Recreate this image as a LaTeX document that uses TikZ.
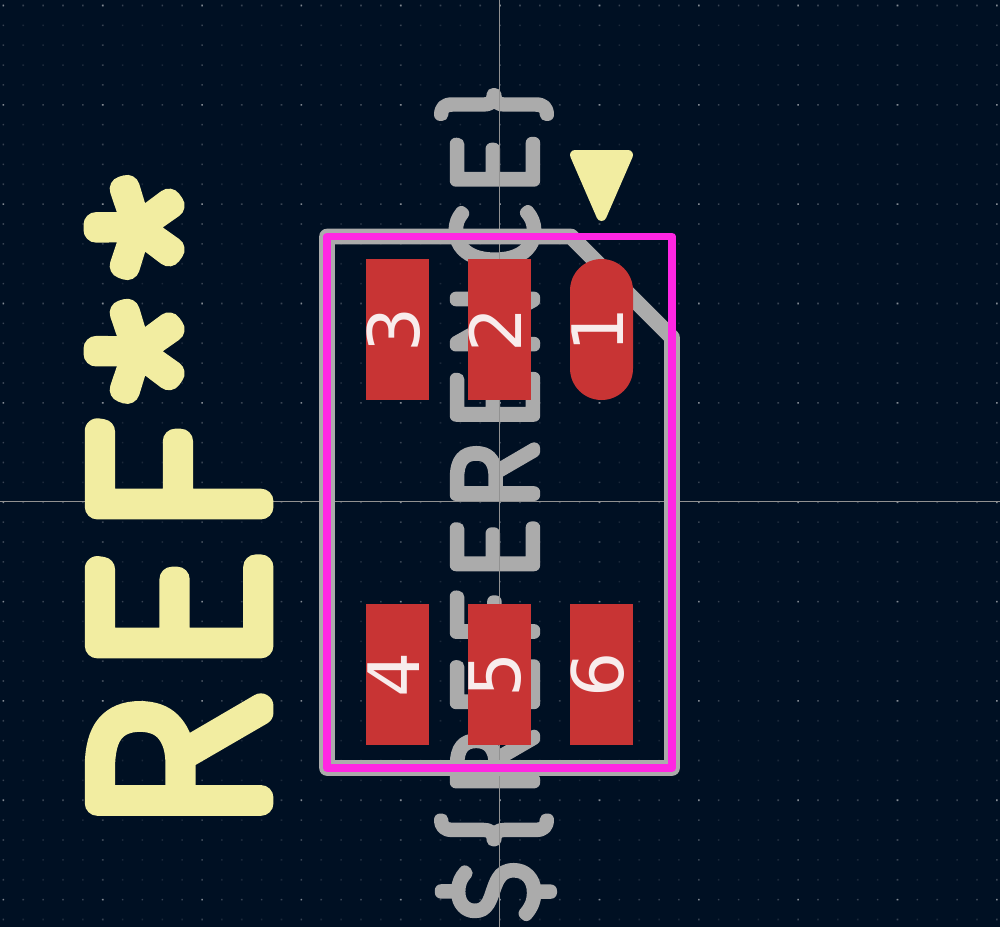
\documentclass[tikz,border=0pt]{standalone}
\usepackage{fontspec}
\usepackage{graphicx}
\usetikzlibrary{positioning}
\setmainfont{DejaVu Sans}
\newfontfamily\silkfont[FakeBold=10.5,LetterSpace=11.7]{Fira Sans Thin}
\newfontfamily\silkbigfont[FakeBold=10.5,LetterSpace=8.5]{Fira Sans Thin}
\newcommand{\padnum}[1]{\hspace*{-8pt}\rotatebox{90}{#1}}
\definecolor{boardbg}{HTML}{001023}
\definecolor{silkyellow}{HTML}{F2EDA1}
\definecolor{fabgray}{HTML}{ABABAB}
\definecolor{crtmagenta}{HTML}{FF26E2}
\definecolor{padred}{HTML}{C83434}
\definecolor{padtext}{HTML}{F8ECEC}
\begin{document}
\begin{tikzpicture}[x=1pt,y=-1pt,
    node distance=204pt and 39pt,
    padbox/.style={rectangle, fill=padred, inner sep=0pt, outer sep=0pt, minimum width=63pt, minimum height=141pt, text=padtext, font=\fontsize{71}{71}\selectfont},
    padround/.style={padbox, rounded corners=31.5pt},
    griddot/.style={fill=white, opacity=.1},
    gridmajor/.style={fill=white, opacity=.13},
    gridcross/.style={fill=white, opacity=.3},
    axisline/.style={draw=fabgray!85!black, line width=1pt},
    silktext/.style={rotate=90, line join=round}
]
\useasboundingbox (0,0) rectangle (1000,927);
\fill[boardbg] (0,0) rectangle (1000,927);
\fill[griddot] \foreach \i in {-25,...,25} {\foreach \j in {-25,...,21} {(499.3+19.87*\i,501.4+19.87*\j) rectangle ++(1.6,1.6)}};
\fill[gridmajor] \foreach \i in {-25,-20,...,25} {\foreach \j in {-25,...,21} {(499.3+19.87*\i,501.4+19.87*\j) rectangle ++(1.6,1.6)}};
\fill[gridmajor] \foreach \i in {-25,...,25} {\foreach \j in {-25,-20,...,20} {(499.3+19.87*\i,501.4+19.87*\j) rectangle ++(1.6,1.6)}};
\fill[gridcross] \foreach \i in {-25,-20,...,25} {\foreach \j in {-25,-20,...,20} {(499.3+19.87*\i,501.4+19.87*\j) rectangle ++(1.6,1.6)}};

\node[silktext, text=fabgray, font=\silkfont\fontsize{115}{115}\selectfont] (refvalue) at (495.5,504) {\$\{REFERENCE\}};

\coordinate (axisw) at (0,501.4);
\coordinate (axise) at (1000,501.4);
\coordinate (axisn) at (499.3,0);
\coordinate (axiss) at (499.3,927);
\draw[axisline] (axisw) -- (axise);
\draw[axisline] (axisn) -- (axiss);

\draw[draw=fabgray, line width=15.7pt, line join=round] (327,236.5) -- (571,236.5) -- (672,337.5) -- (672,768) -- (327,768) -- cycle;

\node[padbox] (pad3) at (397.5,329.5) {\padnum{3}};
\node[padbox, right=of pad3] (pad2) {\padnum{2}};
\node[padround, right=of pad2] (pad1) {\padnum{1}};
\node[padbox, below=of pad3] (pad4) {\padnum{4}};
\node[padbox, right=of pad4] (pad5) {\padnum{5}};
\node[padbox, right=of pad5] (pad6) {\padnum{6}};

\draw[draw=crtmagenta, line width=7.7pt, line join=round] (327,236.5) rectangle (672,768);

\node[silktext, text=silkyellow, font=\silkbigfont\fontsize{240}{240}\selectfont] (refname) at (184,504) {REF\kern20pt\raisebox{-11pt}{**}};
\filldraw[fill=silkyellow, draw=silkyellow, line width=10pt, line join=round] (575,155) -- (628,155) -- (601.5,216) -- cycle;

\end{tikzpicture}
\end{document}
